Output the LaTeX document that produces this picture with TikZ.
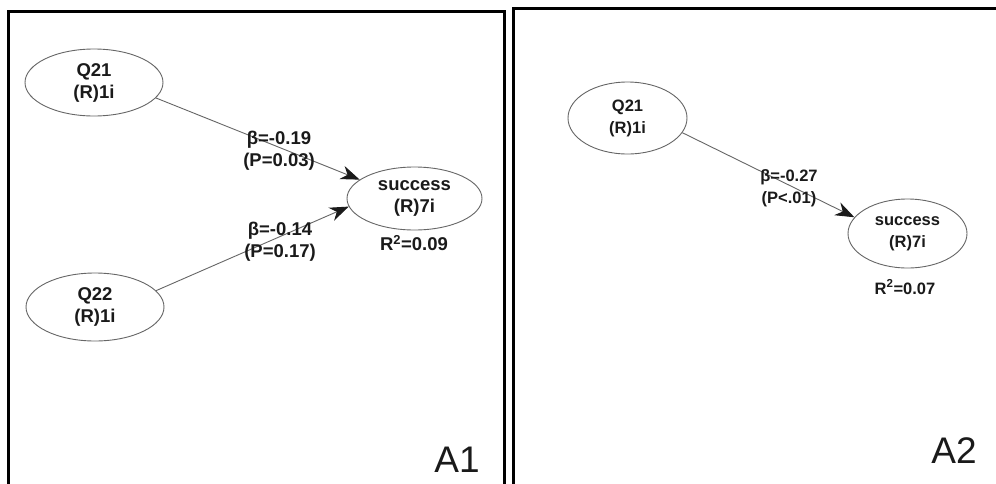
\documentclass[tikz,border=0pt]{standalone}
\usepackage{fontspec}
\setmainfont{Liberation Sans}
\usetikzlibrary{shapes.geometric,arrows.meta}
\definecolor{ink}{HTML}{1A1A1A}
\definecolor{edge}{HTML}{666666}
\tikzset{
  latent/.style={ellipse, draw=edge, line width=0.9pt, inner sep=0pt,
    text=ink, align=center, font=\bfseries\fontsize{18.5}{22}\selectfont},
  latentsmall/.style={latent, font=\bfseries\fontsize{16.5}{22}\selectfont},
  path/.style={draw=edge, line width=0.9pt,
    -{Stealth[length=19pt, width=14pt, inset=6pt, color=ink]}},
  coef/.style={text=ink, align=center, inner sep=0pt,
    font=\bfseries\fontsize{18.5}{22}\selectfont},
  coefsmall/.style={coef, font=\bfseries\fontsize{16.5}{22}\selectfont},
  panel/.style={line width=3pt, line join=miter, draw=black},
  tag/.style={text=ink, inner sep=0pt, font=\fontsize{37}{40}\selectfont}
}
\begin{document}
\begin{tikzpicture}[x=1pt, y=-1pt]
  \useasboundingbox[fill=white] (0,0) rectangle (996,483);

  % panel frames (open at the bottom)
  \draw[panel] (8.7,490) -- (8.7,11) -- (504.5,11) -- (504.5,490);
  \draw[panel] (513.7,490) -- (513.7,8.7) -- (1000,8.7);

  % ---- model A1 ----
  \node[latent, minimum width=138pt, minimum height=67pt] (q21a) at (94,82.5) {Q21\\(R)1i};
  \node[latent, minimum width=138pt, minimum height=68pt] (q22a) at (95,307) {Q22\\(R)1i};
  \node[latent, minimum width=135pt, minimum height=63pt] (succa) at (414.5,198.5) {success\\(R)7i};

  \draw[path] (q21a.-14) -- (succa.161);
  \draw[path] (q22a.15) -- (succa.-173);

  \node[coef] (c1a) at (279,151) {β=-0.19\\(P=0.03)};
  \node[coef] (c2a) at (280,241.5) {β=-0.14\\(P=0.17)};
  \node[coef] (r2a) at (414,243) {R\textsuperscript{2}=0.09};
  \node[tag] (tagA1) at (457,460) {A1};

  % ---- model A2 ----
  \node[latentsmall, minimum width=119pt, minimum height=72pt] (q21b) at (627.5,118) {Q21\\(R)1i};
  \node[latentsmall, minimum width=119pt, minimum height=69pt] (succb) at (907.5,233.5) {success\\(R)7i};

  \draw[path] (q21b.-15) -- (succb.163);

  \node[coefsmall] (c1b) at (789,188.5) {β=-0.27\\(P<.01)};
  \node[coefsmall] (r2b) at (905,287) {R\textsuperscript{2}=0.07};
  \node[tag] (tagA2) at (954,451) {A2};
\end{tikzpicture}
\end{document}
